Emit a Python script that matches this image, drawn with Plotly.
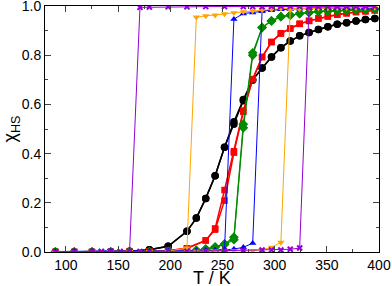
import plotly.graph_objects as go

# ---------------- data ----------------
T_grid = [90, 108, 125, 143, 161, 180, 198, 216, 225, 234, 243, 252, 261, 270, 279,
          288, 297, 306, 315, 324, 333, 342, 351, 360, 369, 378, 387, 396]

black_T = T_grid
black_heat = [0, 0, 0, 0.001, 0.003, 0.009, 0.023, 0.084, 0.138, 0.218, 0.31, 0.426, 0.52, 0.615,
              0.70, 0.748, 0.793, 0.831, 0.858, 0.879, 0.893, 0.905, 0.916, 0.926, 0.932, 0.939, 0.946, 0.95]
black_cool = [0, 0, 0, 0.001, 0.003, 0.009, 0.023, 0.084, 0.138, 0.218, 0.31, 0.426, 0.53, 0.62,
              0.70, 0.748, 0.793, 0.831, 0.858, 0.879, 0.893, 0.905, 0.916, 0.926, 0.932, 0.939, 0.946, 0.95]

red_T = [90, 108, 125, 143, 161, 180, 198, 216, 234, 243, 252, 261, 270, 279, 288, 297,
         306, 315, 324, 333, 342, 351, 360, 369, 378, 387, 396]
red_heat = [0, 0, 0, 0, 0, 0.002, 0.005, 0.015, 0.047, 0.091, 0.209, 0.404, 0.570, 0.703, 0.793, 0.854,
            0.889, 0.909, 0.928, 0.94, 0.95, 0.958, 0.965, 0.971, 0.976, 0.979, 0.983]
red_cool = [0, 0, 0, 0, 0, 0.002, 0.005, 0.015, 0.047, 0.096, 0.252, 0.41, 0.575, 0.703, 0.793, 0.854,
            0.889, 0.909, 0.928, 0.94, 0.95, 0.958, 0.965, 0.971, 0.976, 0.979, 0.983]

green_T = T_grid
green_heat = [0, 0, 0, 0, 0, 0.001, 0.002, 0.004, 0.007, 0.012, 0.02, 0.03, 0.05, 0.505, 0.80,
              0.913, 0.94, 0.957, 0.963, 0.97, 0.974, 0.978, 0.98, 0.982, 0.984, 0.985, 0.987, 0.988]
green_cool = [0, 0, 0, 0, 0, 0.001, 0.002, 0.004, 0.007, 0.012, 0.02, 0.033, 0.06, 0.52, 0.81,
              0.913, 0.94, 0.957, 0.963, 0.97, 0.974, 0.978, 0.98, 0.982, 0.984, 0.985, 0.987, 0.988]

blue_T = T_grid
blue_heat = [0.002, 0.002, 0.002, 0.002, 0.002, 0.003, 0.003, 0.004, 0.005, 0.006, 0.007, 0.008, 0.012,
             0.019, 0.036, 0.98, 0.984, 0.987, 0.989, 0.99, 0.991, 0.992, 0.992, 0.993, 0.993, 0.994, 0.994, 0.994]
blue_cool = [0.002, 0.002, 0.002, 0.002, 0.002, 0.003, 0.003, 0.004, 0.005, 0.006, 0.007, 0.01, 0.947,
             0.97, 0.974, 0.98, 0.984, 0.987, 0.989, 0.99, 0.991, 0.992, 0.992, 0.993, 0.993, 0.994, 0.994, 0.994]

orange_T = T_grid
orange_heat = [0, 0, 0, 0.001, 0.001, 0.002, 0.002, 0.003, 0.003, 0.004, 0.004, 0.005, 0.005, 0.005,
               0.005, 0.009, 0.019, 0.039, 0.985, 0.988, 0.99, 0.992, 0.993, 0.993, 0.994, 0.994, 0.995, 0.995]
orange_cool = [0, 0, 0, 0, 0.001, 0.002, 0.003, 0.016, 0.955, 0.96, 0.963, 0.968, 0.973, 0.977,
               0.98, 0.984, 0.987, 0.99, 0.99, 0.991, 0.992, 0.993, 0.993, 0.994, 0.994, 0.995, 0.995, 0.995]

purple_heat_T = [90, 108, 125, 134, 143, 152, 161, 171, 180, 198, 216, 234, 252, 270, 288, 297,
                 306, 315, 324, 333, 342, 351, 360, 369, 378, 387, 396]
purple_heat = [0, 0, 0, 0.001, 0.001, 0.001, 0.002, 0.002, 0.002, 0.003, 0.003, 0.004, 0.005, 0.006,
               0.008, 0.008, 0.008, 0.011, 0.016, 0.995, 0.997, 0.998, 0.998, 0.998, 0.999, 0.999, 0.999]
purple_cool_T = [90, 108, 125, 134, 143, 152, 161, 171, 180, 198, 216, 234, 252, 270, 279, 288, 297,
                 306, 315, 324, 333, 342, 351, 360, 369, 378, 387, 396]
purple_cool = [0, 0, 0.001, 0.002, 0.002, 0.002, 0.003, 0.995, 0.996, 0.997, 0.997, 0.998, 0.998, 0.998,
               0.998, 0.998, 0.999, 0.999, 0.999, 0.999, 0.999, 0.999, 0.999, 0.999, 0.999, 0.999, 0.999, 0.999]

x_ticks = [100, 150, 200, 250, 300, 350, 400]
y_ticks = [0.0, 0.2, 0.4, 0.6, 0.8, 1.0]
x_title = "T / K"
y_title = "χ<sub>HS</sub>"

# ---------------- figure ----------------
FONT = "Liberation Sans, Arial, sans-serif"
fig = go.Figure()

series = [
    (black_T, black_heat, black_T, black_cool, "black", "circle", 7.5, 1.5),
    (red_T, red_heat, red_T, red_cool, "#ff0000", "square", 6.5, 1.5),
    (green_T, green_heat, green_T, green_cool, "#008b00", "diamond", 7.5, 1.2),
    (blue_T, blue_heat, blue_T, blue_cool, "#0000ff", "triangle-up", 6.5, 1),
    (orange_T, orange_heat, orange_T, orange_cool, "#ffa500", "triangle-down", 6.5, 1),
]
for th, yh, tc, yc, col, sym, ms, lw in series:
    for tx, yy in ((th, yh), (tc, yc)):
        fig.add_trace(go.Scatter(
            x=tx, y=yy, mode="lines+markers",
            line=dict(color=col, width=lw),
            marker=dict(symbol=sym, size=ms, color=col, line=dict(width=0)),
            showlegend=False, cliponaxis=True, hoverinfo="skip"))

for tx, yy in ((purple_heat_T, purple_heat), (purple_cool_T, purple_cool)):
    fig.add_trace(go.Scatter(
        x=tx, y=yy, mode="lines+markers",
        line=dict(color="#9400d3", width=1),
        marker=dict(symbol="x-thin", size=5, color="#9400d3",
                    line=dict(width=2, color="#9400d3")),
        showlegend=False, cliponaxis=True, hoverinfo="skip"))

axis_common = dict(
    showgrid=False, zeroline=False, showline=True, linecolor="black", linewidth=1,
    mirror="allticks", ticks="inside", ticklen=6, tickwidth=1, tickcolor="#444",
    tickfont=dict(family=FONT, size=14, color="black"),
    ticklabeloverflow="allow", automargin=False,
)

fig.update_layout(
    width=392, height=286,
    margin=dict(l=45, r=13, t=6, b=34, autoexpand=False),
    paper_bgcolor="white", plot_bgcolor="white",
    xaxis=dict(range=[80, 400.01], tickvals=x_ticks, ticktext=[str(v) for v in x_ticks],
               minor=dict(dtick=25, tick0=0, ticks="inside", ticklen=3, tickcolor="#444"),
               **axis_common),
    yaxis=dict(range=[0, 1.0005], tickvals=y_ticks, ticktext=["0.0", "0.2", "0.4", "0.6", "0.8", "1.0"],
               minor=dict(dtick=0.1, ticks="inside", ticklen=3, tickcolor="#444"),
               title=dict(text=y_title, standoff=2,
                          font=dict(family=FONT, size=18, color="black")),
               **axis_common),
    annotations=[dict(text=x_title, xref="paper", yref="paper", x=0.5, y=-0.107,
                      xanchor="center", yanchor="middle", showarrow=False,
                      font=dict(family=FONT, size=18, color="black"))],
)

fig.write_html("out.html", config={"displayModeBar": False, "staticPlot": True},
               post_script="document.body.style.margin='0px';document.body.style.padding='0px';")
